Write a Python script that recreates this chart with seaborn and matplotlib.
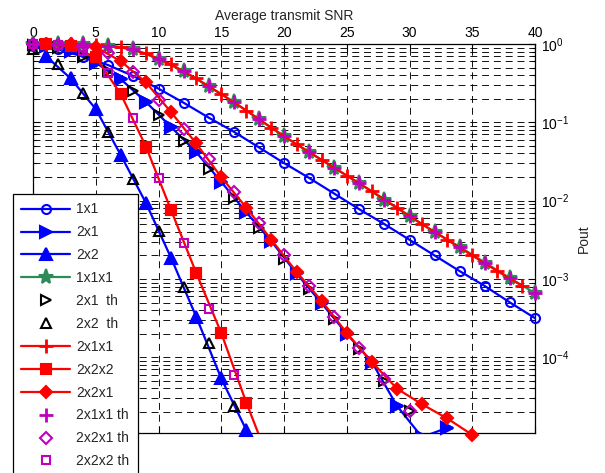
import numpy as np
import matplotlib
matplotlib.use("Agg")
import matplotlib.pyplot as plt
import seaborn as sns
from matplotlib.ticker import LogLocator, NullFormatter, FixedLocator

# ---------------- data (log10 of Pout) ----------------
snr_1x1 = list(range(0, 41, 2))
log_1x1 = [-0.02, -0.07, -0.16, -0.27, -0.41, -0.57, -0.75, -0.94, -1.12, -1.32, -1.52,
           -1.71, -1.91, -2.11, -2.30, -2.50, -2.70, -2.90, -3.09, -3.30, -3.50]

snr_2x1 = list(range(1, 34, 2))
log_2x1 = [-0.02, -0.09, -0.24, -0.45, -0.74, -1.06, -1.38, -1.76, -2.15, -2.52, -2.93,
           -3.31, -3.70, -4.06, -4.62, -5.02, -4.90]

snr_2x2 = list(range(1, 18, 2))
log_2x2 = [-0.15, -0.44, -0.83, -1.42, -2.03, -2.73, -3.48, -4.27, -4.93]

snr_1x1x1 = list(range(0, 41, 2))
log_1x1x1 = [-0.001, -0.002, -0.005, -0.02, -0.07, -0.19, -0.35, -0.54, -0.74, -0.96, -1.18,
             -1.38, -1.58, -1.78, -1.99, -2.20, -2.40, -2.59, -2.79, -2.99, -3.18]

snr_2x1_th = list(range(0, 31, 2))
log_2x1_th = [-0.01, -0.05, -0.17, -0.35, -0.60, -0.91, -1.24, -1.60, -1.97, -2.35, -2.75,
              -3.13, -3.51, -3.90, -4.30, -4.69]

snr_2x2_th = list(range(0, 17, 2))
log_2x2_th = [-0.06, -0.25, -0.62, -1.12, -1.72, -2.39, -3.10, -3.82, -4.62]

snr_2x1x1 = list(range(1, 40, 2))
log_2x1x1 = [-0.001, -0.002, -0.01, -0.04, -0.12, -0.26, -0.44, -0.64, -0.85, -1.07, -1.28,
             -1.48, -1.68, -1.88, -2.09, -2.30, -2.50, -2.70, -2.90, -3.09]

snr_2x2x2 = list(range(1, 20, 2))
log_2x2x2 = [-0.005, -0.03, -0.17, -0.64, -1.31, -2.12, -2.92, -3.69, -4.58, -5.40]

snr_2x2x1 = list(range(1, 36, 2))
log_2x2x1 = [-0.001, -0.005, -0.04, -0.22, -0.49, -0.87, -1.27, -1.70, -2.09, -2.50, -2.91,
             -3.28, -3.69, -4.06, -4.40, -4.60, -4.78, -4.99]

snr_2x1x1_th = list(range(0, 41, 2))
log_2x1x1_th = [-0.001, -0.002, -0.005, -0.02, -0.07, -0.19, -0.35, -0.54, -0.74, -0.96, -1.18,
                -1.38, -1.58, -1.78, -1.99, -2.20, -2.40, -2.59, -2.79, -2.99, -3.18]

snr_2x2x1_th = list(range(0, 31, 2))
log_2x2x1_th = [-0.002, -0.01, -0.04, -0.12, -0.36, -0.71, -1.09, -1.47, -1.89, -2.29, -2.69,
                -3.09, -3.49, -3.88, -4.28, -4.68]

snr_2x2x2_th = list(range(0, 17, 2))
log_2x2x2_th = [-0.002, -0.01, -0.09, -0.37, -0.95, -1.71, -2.54, -3.38, -4.22]

x_ticks = [0, 5, 10, 15, 20, 25, 30, 35, 40]

# ---------------- style ----------------
sns.set_theme(style="white")
plt.rcParams["font.family"] = ["Liberation Sans", "DejaVu Sans"]
plt.rcParams["axes.unicode_minus"] = False
plt.rcParams["lines.scale_dashes"] = False

BLUE, RED, GREEN, MAG, BLK = "#0000FF", "#FF0000", "#2E8B57", "#BF00BF", "#000000"
YMIN = 1.08e-5

fig = plt.figure(figsize=(6.05, 4.73), dpi=100)
ax = fig.add_axes([33 / 605, 1 - 433 / 473, 502 / 605, 389 / 473])
ax.set_yscale("log")

def style(color, marker, ms, filled=True, ls="-", mew=1.5):
    return dict(color=color, marker=marker, markersize=ms, linewidth=1.6 if ls == "-" else 0,
                linestyle=ls, markeredgecolor=color,
                markerfacecolor=color if filled else "none", markeredgewidth=mew)

series = [
    ("1x1", snr_1x1, log_1x1, style(BLUE, "o", 6.5, filled=False)),
    ("2x1", snr_2x1, log_2x1, style(BLUE, ">", 8)),
    ("2x2", snr_2x2, log_2x2, style(BLUE, "^", 8)),
    ("1x1x1", snr_1x1x1, log_1x1x1, style(GREEN, "*", 11)),
    ("2x1  th", snr_2x1_th, log_2x1_th, style(BLK, ">", 7, filled=False, ls="none")),
    ("2x2  th", snr_2x2_th, log_2x2_th, style(BLK, "^", 7, filled=False, ls="none")),
    ("2x1x1", snr_2x1x1, log_2x1x1, style(RED, "+", 9.5, mew=2)),
    ("2x2x2", snr_2x2x2, log_2x2x2, style(RED, "s", 6.5)),
    ("2x2x1", snr_2x2x1, log_2x2x1, style(RED, "D", 6.5)),
    ("2x1x1 th", snr_2x1x1_th, log_2x1x1_th, style(MAG, "+", 9.5, ls="none", mew=2)),
    ("2x2x1 th", snr_2x2x1_th, log_2x2x1_th, style(MAG, "D", 6, filled=False, ls="none")),
    ("2x2x2 th", snr_2x2x2_th, log_2x2x2_th, style(MAG, "s", 6, filled=False, ls="none")),
]

for label, xs, ls, kw in series:
    yv = 10 ** np.array(ls)
    inside = np.all(yv >= YMIN * 0.9)
    sns.lineplot(x=xs, y=yv, ax=ax, label=label, clip_on=not inside, zorder=3, **kw)
    if not inside:
        m = yv >= YMIN
        kw2 = dict(kw)
        kw2["linestyle"] = "none"
        sns.lineplot(x=np.array(xs)[m], y=yv[m], ax=ax, legend=False, clip_on=False,
                     zorder=3, **kw2)

ax.set_xlim(0, 40)
ax.set_ylim(YMIN, 1)
ax.xaxis.set_major_locator(FixedLocator(x_ticks))
ax.yaxis.set_major_locator(LogLocator(base=10, numticks=10))
ax.yaxis.set_minor_locator(LogLocator(base=10, subs=np.arange(2, 10), numticks=20))
ax.yaxis.set_minor_formatter(NullFormatter())

ax.xaxis.tick_top()
ax.xaxis.set_label_position("top")
ax.yaxis.tick_right()
ax.yaxis.set_label_position("right")
ax.tick_params(which="both", direction="in", top=True, bottom=True, left=True, right=True,
               labeltop=True, labelbottom=False, labelleft=False, labelright=True,
               colors="black", labelsize=10, width=0.8)
ax.tick_params(which="major", length=5)
ax.tick_params(which="minor", length=2.5)
ax.tick_params(axis="x", pad=3)
ax.tick_params(axis="y", pad=4)

ax.grid(True, which="major", axis="both", color="black", linewidth=0.65,
        linestyle=(0, (5, 3.5)))
ax.grid(True, which="minor", axis="y", color="black", linewidth=0.65,
        linestyle=(0, (5, 3.5)))
ax.set_axisbelow(True)

for s in ax.spines.values():
    s.set_color("black")
    s.set_linewidth(0.9)

ax.set_xlabel("Average transmit SNR", fontsize=10, labelpad=4)
ax.set_ylabel("Pout", fontsize=10, labelpad=6)

handles, labels = ax.get_legend_handles_labels()
leg = ax.legend(handles, labels, loc="upper left", bbox_to_anchor=(-0.04, 0.614),
                borderaxespad=0, frameon=True, fancybox=False, edgecolor="black",
                framealpha=1, handlelength=3.5, handletextpad=0.45, labelspacing=0.64,
                borderpad=0.6, fontsize=10)
leg.get_frame().set_linewidth(0.9)
leg.set_zorder(10)

fig.savefig("out.png", dpi=100)
